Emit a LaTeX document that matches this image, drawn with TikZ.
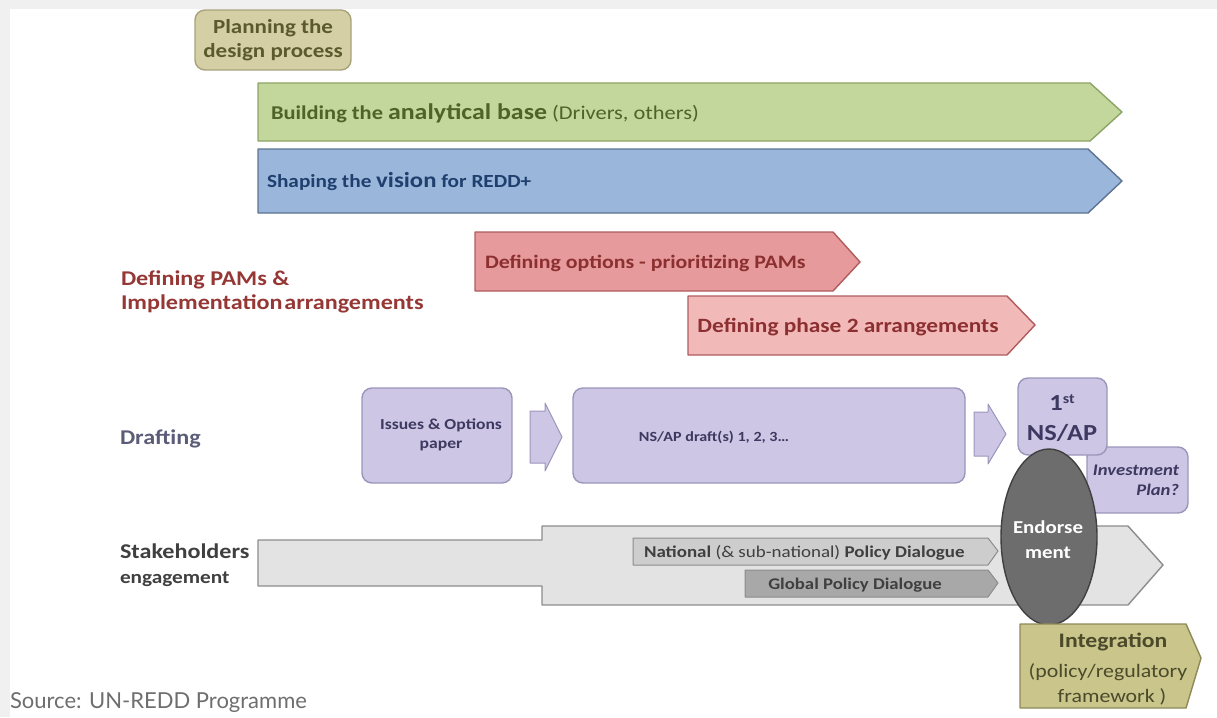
\documentclass[tikz,border=0pt]{standalone}
\usepackage{graphicx}
\usepackage{fontspec}
\setmainfont{Carlito}
\newfontfamily\srcfont{Lato}
\usetikzlibrary{shapes.geometric}
\newcommand\sx[1]{\scalebox{1.15}[1]{#1}}
\definecolor{frame}{HTML}{F0F0F0}
\definecolor{plfill}{HTML}{D5CFA6}
\definecolor{pldraw}{HTML}{A8A27A}
\definecolor{pltext}{HTML}{5B5A2C}
\definecolor{grfill}{HTML}{C3D69B}
\definecolor{grdraw}{HTML}{8CA466}
\definecolor{grtext}{HTML}{4F6228}
\definecolor{blfill}{HTML}{9AB6DA}
\definecolor{bldraw}{HTML}{5D7391}
\definecolor{bltext}{HTML}{1F3F6F}
\definecolor{rdfill}{HTML}{E69A9B}
\definecolor{rdfillb}{HTML}{F2B9B9}
\definecolor{rddraw}{HTML}{B05C5D}
\definecolor{rdtext}{HTML}{8C2F30}
\definecolor{pamtext}{HTML}{953735}
\definecolor{drtext}{HTML}{5A5C78}
\definecolor{lvfill}{HTML}{CDC7E5}
\definecolor{lvdraw}{HTML}{9B95BB}
\definecolor{lvtext}{HTML}{3D3960}
\definecolor{stfill}{HTML}{E3E3E3}
\definecolor{stdraw}{HTML}{8C8C8C}
\definecolor{natfill}{HTML}{CDCDCD}
\definecolor{glfill}{HTML}{A8A8A8}
\definecolor{sttext}{HTML}{3F3F3F}
\definecolor{enfill}{HTML}{6D6D6D}
\definecolor{endraw}{HTML}{404040}
\definecolor{infill}{HTML}{C9C58B}
\definecolor{indraw}{HTML}{8E8A58}
\definecolor{intext}{HTML}{4B4A2A}
\definecolor{srctext}{HTML}{6E6E6E}
\begin{document}
\begin{tikzpicture}[x=1pt,y=-1pt,
  shp/.style={line width=1.4pt, line join=round},
  rbox/.style={shp, rounded corners=10pt},
  lbl/.style={inner sep=0pt, outer sep=0pt},
]
\useasboundingbox (0,0) rectangle (1217,717);
% frame strips
\fill[frame] (0,0) rectangle (1217,9);
\fill[frame] (0,0) rectangle (10,717);

% Planning
\draw[rbox, fill=plfill, draw=pldraw] (195,10) rectangle (351,70);
\node[lbl, align=center, text=pltext, font=\bfseries\fontsize{20}{24}\selectfont] (plan) at (273,40) {\sx{Planning the}\\\sx{design process}};

% Green arrow
\draw[shp, fill=grfill, draw=grdraw] (258,83) -- (1090,83) -- (1122,112) -- (1090,141) -- (258,141) -- cycle;
\node[lbl, anchor=base west, text=grtext, font=\fontsize{19.5}{22}\selectfont] (build) at (271,119)
  {\sx{\bfseries Building the {\fontsize{22.5}{24}\selectfont analytical base} \mdseries(Drivers, others)}};

% Blue arrow
\draw[shp, fill=blfill, draw=bldraw] (258,149) -- (1088,149) -- (1122,181) -- (1088,213) -- (258,213) -- cycle;
\node[lbl, anchor=base west, text=bltext, font=\bfseries\fontsize{18.5}{22}\selectfont] (shape) at (267,187)
  {\sx{Shaping the {\fontsize{21.5}{24}\selectfont vision} for REDD+}};

% PAMs label
\node[lbl, anchor=base west, text=pamtext, font=\bfseries\fontsize{21}{24}\selectfont] (pam1) at (121,285) {\sx{Defining PAMs \&}};
\node[lbl, anchor=base west, text=pamtext, font=\bfseries\fontsize{21}{24}\selectfont] (pam2) at (121,309) {\sx{Implementation\hspace{1.5pt}arrangements}};

% Red arrows
\draw[shp, fill=rdfill, draw=rddraw] (475,232) -- (833,232) -- (860,262) -- (833,291) -- (475,291) -- cycle;
\node[lbl, anchor=base west, text=rdtext, font=\bfseries\fontsize{19}{20}\selectfont] (opt) at (485,268) {\sx{Defining options - prioritizing PAMs}};
\draw[shp, fill=rdfillb, draw=rddraw] (688,296) -- (1007,296) -- (1035,325) -- (1007,355) -- (688,355) -- cycle;
\node[lbl, anchor=base, text=rdtext, font=\bfseries\fontsize{20.3}{22}\selectfont] (ph2) at (848,332) {\sx{Defining phase 2 arrangements}};

% Drafting
\node[lbl, anchor=base west, text=drtext, font=\bfseries\fontsize{21}{24}\selectfont] (draft) at (120,444) {\sx{Drafting}};

\draw[rbox, fill=lvfill, draw=lvdraw] (362,388) rectangle (512,483);
\node[lbl, align=center, text=lvtext, font=\bfseries\fontsize{15.3}{19}\selectfont] (iss) at (441,435) {\sx{Issues \& Options}\\\sx{paper}};
\draw[shp, line width=1pt, fill=lvfill, draw=lvdraw] (530,411) -- (545,411) -- (545,403) -- (562,437) -- (545,471) -- (545,463) -- (530,463) -- cycle;

\draw[rbox, fill=lvfill, draw=lvdraw] (573,388) rectangle (965,483);
\node[lbl, text=lvtext, font=\bfseries\fontsize{14}{18}\selectfont] (nsd) at (714,437) {\sx{NS/AP draft(s) 1, 2, 3\dots}};
\draw[shp, line width=1pt, fill=lvfill, draw=lvdraw] (974,412) -- (988,412) -- (988,404) -- (1006,434) -- (988,464) -- (988,456) -- (974,456) -- cycle;

\draw[rbox, fill=lvfill, draw=lvdraw] (1087,447) rectangle (1188,513);
\node[lbl, align=right, text=lvtext, font=\bfseries\itshape\fontsize{16.2}{20}\selectfont] (inv) at (1136,480) {\sx{Investment}\\\sx{Plan?}};
\draw[rbox, fill=lvfill, draw=lvdraw] (1018,378) rectangle (1107,455);
\node[lbl, align=center, text=lvtext, font=\bfseries\fontsize{23}{30}\selectfont] (ns1) at (1062,418) {\sx{1{\fontsize{14}{14}\selectfont\raisebox{7pt}{st}}}\\\sx{NS/AP}};

% Stakeholders
\node[lbl, anchor=base west, text=sttext, font=\bfseries\fontsize{21}{24}\selectfont] (stk) at (120,558) {\sx{Stakeholders}};
\node[lbl, anchor=base west, text=sttext, font=\bfseries\fontsize{18.5}{20}\selectfont] (eng) at (120,583) {\sx{engagement}};
\draw[shp, fill=stfill, draw=stdraw] (258,540) -- (542,540) -- (542,526) -- (1128,526) -- (1163,565) -- (1128,605) -- (542,605) -- (542,586) -- (258,586) -- cycle;
\draw[shp, line width=1pt, fill=natfill, draw=stdraw] (633,538) -- (988,538) -- (998,551) -- (988,565) -- (633,565) -- cycle;
\node[lbl, anchor=base west, text=sttext, font=\fontsize{16.5}{18}\selectfont] (nat) at (644,557) {\sx{\bfseries National \mdseries(\& sub-national) \bfseries Policy Dialogue}};
\draw[shp, line width=1pt, fill=glfill, draw=stdraw] (745,570) -- (988,570) -- (998,583) -- (988,597) -- (745,597) -- cycle;
\node[lbl, anchor=base, text=sttext, font=\bfseries\fontsize{16.3}{18}\selectfont] (glob) at (855,589) {\sx{Global Policy Dialogue}};

% Endorsement
\node[shp, ellipse, inner sep=0pt, minimum width=96pt, minimum height=176pt, fill=enfill, draw=endraw] (endo) at (1049,537) {};
\node[lbl, align=center, text=white, font=\bfseries\fontsize{18.2}{25}\selectfont] (endt) at (1048,540) {\sx{Endorse}\\\sx{ment}};

% Integration
\draw[shp, fill=infill, draw=indraw] (1020,624) -- (1186,624) -- (1201,658) -- (1186,708) -- (1020,708) -- cycle;
\node[lbl, anchor=base, text=intext, font=\bfseries\fontsize{20.6}{25}\selectfont] (integ) at (1113,647) {\sx{Integration}};
\node[lbl, anchor=base, text=intext, font=\fontsize{19}{25}\selectfont] (integ2) at (1108,677) {\sx{(policy/regulatory}};
\node[lbl, anchor=base, text=intext, font=\fontsize{19}{25}\selectfont] (integ3) at (1112,702) {\sx{framework )}};

% Source
\node[lbl, anchor=base west, text=srctext, font=\srcfont\fontsize{22}{24}\selectfont] (src) at (10,708) {Source: UN-REDD Programme};
\end{tikzpicture}
\end{document}
